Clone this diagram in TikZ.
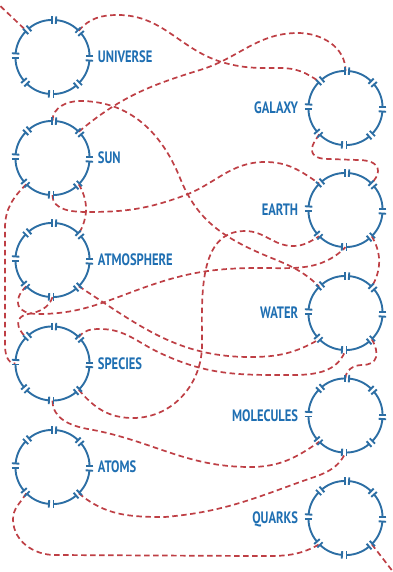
\documentclass[tikz,border=0pt]{standalone}
\usepackage{fontspec}
\newfontfamily\labelfont[FakeStretch=0.76]{PT Sans}
\usetikzlibrary{arrows.meta,positioning}
\definecolor{ringblue}{HTML}{2C6EA4}
\definecolor{labelblue}{HTML}{1F6FB2}
\definecolor{linkred}{HTML}{BE3F45}
\begin{document}
\begin{tikzpicture}[x=1pt,y=1pt,
  ring/.style={circle,minimum size=74pt,inner sep=0pt},
  ringarc/.style={draw=ringblue,line width=1.9pt,{Bar[width=7.5pt]}-{Bar[width=7.5pt]}},
  lbl/.style={inner sep=0pt,text depth=0pt,text=labelblue,font=\labelfont\bfseries\fontsize{16.5}{16.5}\selectfont},
  link/.style={draw=linkred,line width=1.7pt,dash pattern=on 5.5pt off 3.5pt}]
 \useasboundingbox (0,0) rectangle (392,-572);
 \coordinate (nw) at (-6,0);
 \coordinate (se) at (394,-573);
 \node[ring] (universe) at (52.5,-57) {};
 \node[ring] (sun) at (52.5,-158) {};
 \node[ring] (atmosphere) at (52.5,-260) {};
 \node[ring] (species) at (52.5,-363.5) {};
 \node[ring] (atoms) at (52.5,-467) {};
 \node[ring] (galaxy) at (345.5,-108) {};
 \node[ring] (earth) at (345.5,-210) {};
 \node[ring] (water) at (345.5,-313) {};
 \node[ring] (molecules) at (345.5,-415.5) {};
 \node[ring] (quarks) at (345.5,-518) {};
 \node[lbl,right=8pt of universe] {UNIVERSE};
 \node[lbl,right=8pt of sun] {SUN};
 \node[lbl,right=8pt of atmosphere] {ATMOSPHERE};
 \node[lbl,right=8pt of species] {SPECIES};
 \node[lbl,right=8pt of atoms] {ATOMS};
 \node[lbl,left=10pt of galaxy] {GALAXY};
 \node[lbl,left=10pt of earth] {EARTH};
 \node[lbl,left=10pt of water] {WATER};
 \node[lbl,left=10pt of molecules] {MOLECULES};
 \node[lbl,left=10pt of quarks] {QUARKS};
 \draw[link] (nw) -- (universe.135);
 \draw[link] (universe.45) to[out=50,in=180] (118,-15) to[out=0,in=165] (225,-63)
  to[out=-15,in=180] (280,-68) to[out=0,in=145] (galaxy.135);
 \draw[link] (sun.45) to[out=40,in=197] (200,-70) to[out=17,in=180] (298,-33)
  to[out=0,in=90] (galaxy.90);
 \draw[link] (sun.90) to[out=90,in=180] (80,-101) to[out=0,in=112] (180,-178)
  to[out=-68,in=155] (253,-250) to[out=-25,in=135] (water.135);
 \draw[link] (sun.270) to[out=-90,in=180] (88,-212) to[out=0,in=200] (183,-196)
  to[out=20,in=180] (265,-162) to[out=0,in=145] (earth.135);
 \draw[link] (sun.315) to[out=-60,in=60] (atmosphere.45);
 \draw[link] (sun.225) to[out=225,in=90] (5,-228) -- (5,-345) to[out=-90,in=180] (species.180);
 \draw[link] (atmosphere.225) to[out=225,in=180,looseness=1.8] (38,-314) to[out=0,in=200] (140,-289)
  to[out=20,in=180] (260,-268) to[out=0,in=-135] (earth.270);
 \draw[link] (atmosphere.270) to[out=-110,in=10] (28,-314) to[out=190,in=140,looseness=1.5] (species.135);
 \draw[link] (atmosphere.315) to[out=-33,in=180] (250,-357) to[out=0,in=-150] (water.225);
 \draw[link] (species.45) to[out=55,in=180] (100,-329) to[out=0,in=155] (160,-353)
  to[out=-25,in=180] (275,-375) to[out=0,in=-110] (water.270);
 \draw[link] (species.315) to[out=-50,in=180] (133,-418) to[out=0,in=-90] (202,-345)
  to[out=90,in=180] (245,-231) to[out=0,in=180] (293,-246) to[out=0,in=-150] (earth.225);
 \draw[link] (species.270) to[out=-90,in=170] (88,-429) to[out=-10,in=180] (250,-467)
  to[out=0,in=-145] (molecules.225);
 \draw[link] (atoms.315) to[out=-40,in=180] (165,-517) to[out=5,in=200] (300,-482)
  to[out=20,in=-115] (molecules.270);
 \draw[link] (atoms.225) to[out=240,in=92] (13,-520) to[out=-88,in=180] (55,-555)
  -- (255,-556) to[out=0,in=-150] (quarks.225);
 \draw[link] (quarks.315) -- (se);
 \draw[link] (galaxy.225) to[out=-120,in=90] (312,-150) to[out=-90,in=180] (328,-159)
  -- (358,-160) to[out=0,in=90] (378,-171) to[out=-90,in=60] (earth.45);
 \draw[link] (earth.315) to[out=-60,in=60] (water.45);
 \draw[link] (water.315) to[out=-60,in=0,looseness=1.5] (362,-365) to[out=180,in=90] (molecules.90);
 \foreach \n in {universe,sun,atmosphere,species,atoms,galaxy,earth,water,molecules,quarks}
  \foreach \a [evaluate=\a as \s using \a+4, evaluate=\a as \e using \a+41] in {0,45,...,315}
   \draw[ringarc] ([shift={(\s:37)}]\n.center) arc[start angle=\s,end angle=\e,radius=37];
\end{tikzpicture}
\end{document}
